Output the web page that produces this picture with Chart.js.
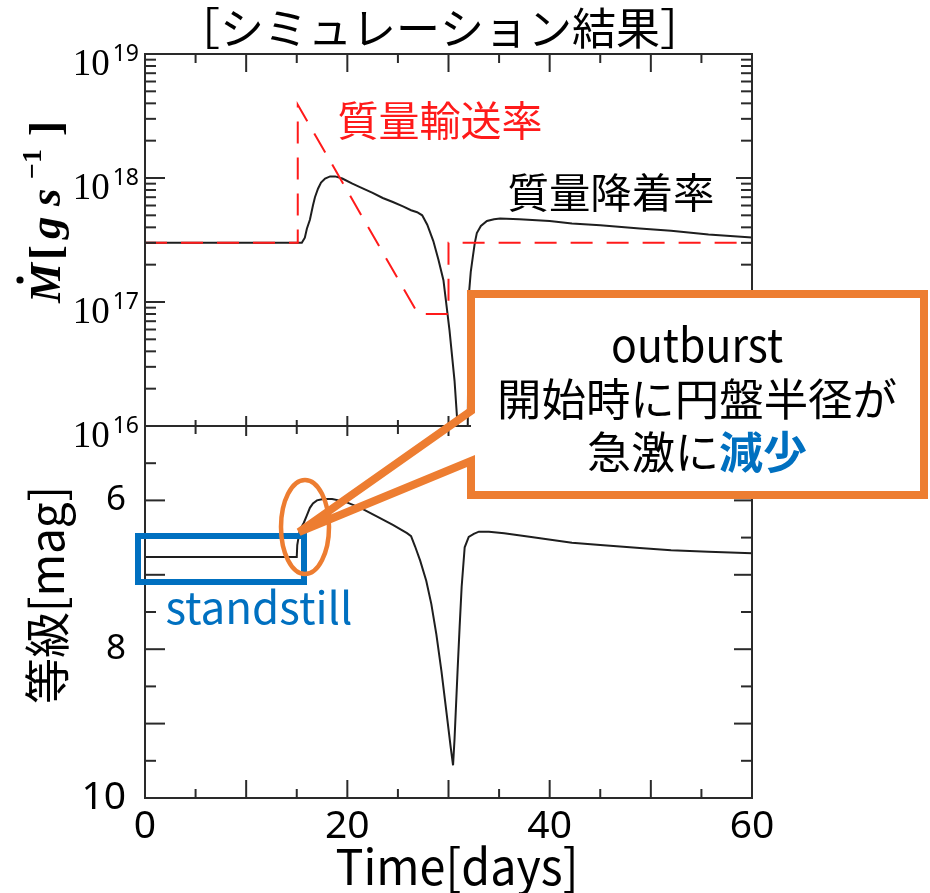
<!DOCTYPE html>
<html>
<head>
<meta charset="utf-8">
<script src="https://cdn.jsdelivr.net/npm/chart.js@4.4.1/dist/chart.umd.min.js"></script>
<style>
  html, body { margin: 0; padding: 0; background: #ffffff; }
  canvas { display: block; }
</style>
</head>
<body>
<canvas id="chart" width="930" height="893"></canvas>
<script>
// Mass transfer rate from the companion [g/s] (dashed red)
const transferDays = [0, 15.1, 15.1, 27.0, 30.0, 30.0, 60];
const transferRate = [3e17, 3e17, 3.9e18, 8e16, 8e16, 3e17, 3e17];

// Mass accretion rate onto the white dwarf [g/s] (solid black)
const accretionDays = [0, 15.5, 15.8, 16.0, 16.3, 16.6, 16.8, 17.1, 17.4, 17.8, 18.3, 18.8, 19.5, 20.5,
  21.3, 22.5, 23.5, 24.5, 25.5, 26.3, 26.9, 27.4, 27.9, 28.5, 29.0, 29.5, 30.1, 30.6, 30.9, 31.2,
  31.85, 31.95, 32.05, 32.2, 32.4, 32.6, 32.8, 33.2, 33.8, 34.5, 35.1, 37, 40, 42.2, 45, 48.9, 52, 55.7, 60];
const accretionRate = [3e17, 3e17, 3.3e17, 3.9e17, 4.6e17, 6.0e17, 7.0e17, 8.2e17, 9.2e17, 9.9e17, 1.03e18,
  1.03e18, 9.9e17, 9.0e17, 8.4e17, 7.6e17, 6.9e17, 6.4e17, 5.9e17, 5.5e17, 5.3e17, 5.0e17, 4.2e17,
  3.1e17, 2.2e17, 1.5e17, 5.9e16, 2.3e16, 1.0e16, 3e15, 3e15, 3e16, 1.24e17, 1.75e17, 2.3e17, 3.0e17,
  3.6e17, 4.1e17, 4.5e17, 4.65e17, 4.72e17, 4.65e17, 4.5e17, 4.3e17, 4.15e17, 3.92e17, 3.75e17, 3.5e17, 3.32e17];

// Visual magnitude of the system
const magDays = [0, 15.0, 15.05, 15.3, 15.7, 16.0, 16.3, 16.6, 17.0, 17.6, 18.5, 19.5, 20.0, 21.3, 23.0,
  24.5, 25.9, 26.3, 26.7, 27.2, 27.8, 28.3, 28.8, 29.3, 29.8, 30.2, 30.45, 30.6, 30.9, 31.1, 31.3,
  31.6, 32.0, 32.5, 33.0, 34.0, 35.5, 38, 42.2, 45, 48.9, 52, 55.7, 60];
const magValues = [6.76, 6.76, 6.60, 6.40, 6.30, 6.20, 6.10, 6.04, 6.00, 5.98, 5.98, 6.01, 6.03, 6.10, 6.22,
  6.33, 6.44, 6.48, 6.62, 6.81, 7.08, 7.39, 7.80, 8.29, 8.85, 9.30, 9.56, 9.20, 8.28, 7.70, 7.16,
  6.63, 6.49, 6.45, 6.42, 6.42, 6.44, 6.49, 6.57, 6.60, 6.64, 6.67, 6.69, 6.71];

// Tick values
const rateTicks = [1e16, 1e17, 1e18, 1e19];
const magTickLabels = [6, 8, 10];
const dayTickLabels = [0, 20, 40, 60];

const ORANGE = '#ed7d31';
const BLUE = '#0070c0';
const FRAME = '#2a2a2a';
const JP = '"Noto Sans CJK JP", "Noto Sans", sans-serif';

function pairs(xs, ys) { return xs.map((x, i) => ({ x: x, y: ys[i] })); }

// Draw text squeezed/stretched horizontally to a given width
function fitText(ctx, text, x, y, width, align) {
  const w = ctx.measureText(text).width;
  ctx.save();
  ctx.translate(x, y);
  ctx.scale(width / w, 1);
  ctx.textAlign = align || 'center';
  ctx.fillText(text, 0, 0);
  ctx.restore();
}

function tick(ctx, x1, y1, x2, y2) {
  ctx.beginPath(); ctx.moveTo(x1, y1); ctx.lineTo(x2, y2); ctx.stroke();
}

const panelPlugin = {
  id: 'panelPlugin',
  beforeDatasetDraw(chart, args) {
    const m = args.meta, ctx = chart.ctx;
    ctx.save();
    ctx.beginPath();
    ctx.rect(m.xScale.left, m.yScale.top, m.xScale.right - m.xScale.left, m.yScale.bottom - m.yScale.top);
    ctx.clip();
  },
  afterDatasetDraw(chart) { chart.ctx.restore(); },
  afterDatasetsDraw(chart) {
    const ctx = chart.ctx;
    const xs = chart.scales.x, yr = chart.scales.yRate, ym = chart.scales.yMag;
    const L = xs.left, R = xs.right;
    ctx.save();
    ctx.strokeStyle = FRAME;
    ctx.lineWidth = 2;
    ctx.lineCap = 'butt';
    ctx.strokeRect(L, yr.top, R - L, yr.bottom - yr.top);
    ctx.strokeRect(L, ym.top, R - L, ym.bottom - ym.top);

    // time ticks every 5 days, longer every 10
    for (let d = 5; d < 60; d += 5) {
      const px = xs.getPixelForValue(d);
      const major = d % 10 === 0;
      tick(ctx, px, yr.top, px, yr.top + (major ? 18 : 9));
      tick(ctx, px, yr.bottom, px, yr.bottom - (major ? 10 : 6));
      tick(ctx, px, ym.top, px, ym.top + (major ? 10 : 8));
      tick(ctx, px, ym.bottom, px, ym.bottom - (major ? 18 : 9));
    }
    // logarithmic ticks on the rate panel
    for (let e = 16; e <= 18; e++) {
      for (let k = 1; k <= 9; k++) {
        const v = k * Math.pow(10, e);
        if (k === 1 && e === 16) continue;
        const py = yr.getPixelForValue(v);
        const major = k === 1;
        tick(ctx, L, py, L + (major ? 20 : 11), py);
        tick(ctx, R, py, R - (major ? 16 : 11), py);
      }
    }
    // magnitude ticks every 0.5 mag
    for (let m = 5.5; m < 10; m += 0.5) {
      const py = ym.getPixelForValue(m);
      const major = Math.abs(m - Math.round(m)) < 1e-6;
      tick(ctx, L, py, L + (major ? 20 : 11), py);
      tick(ctx, R, py, R - (major ? 18 : 11), py);
    }
    ctx.restore();
  },
  afterDraw(chart) {
    const ctx = chart.ctx;
    const yr = chart.scales.yRate;
    ctx.save();
    ctx.fillStyle = '#000';

    // title
    ctx.font = '44px ' + JP;
    ctx.textBaseline = 'middle';
    fitText(ctx, '［シミュレーション結果］', 440, 28, 528, 'center');

    // rate axis labels 10^n
    ctx.textBaseline = 'alphabetic';
    yr.ticks.forEach(t => {
      const py = yr.getPixelForValue(t.value);
      const exp = String(Math.round(Math.log10(t.value)));
      ctx.font = '23px "Noto Sans"';
      ctx.textAlign = 'right';
      const ew = ctx.measureText(exp).width;
      ctx.fillText(exp, 139, py + 7);
      ctx.font = '37px "Liberation Serif"';
      ctx.fillText('10', 139 - ew - 3, py + 21);
    });

    // rate axis title  Ṁ[g s^-1]
    ctx.save();
    ctx.translate(60, 303);
    ctx.rotate(-Math.PI / 2);
    ctx.textAlign = 'left';
    ctx.textBaseline = 'alphabetic';
    ctx.font = 'italic bold 45px "Liberation Serif"';
    ctx.fillText('M', 0, 0);
    ctx.beginPath(); ctx.arc(23, -40, 3.6, 0, Math.PI * 2); ctx.fill();
    ctx.font = 'bold 45px "Liberation Serif"';
    ctx.fillText('[', 43, 0);
    ctx.font = 'italic bold 45px "Liberation Serif"';
    ctx.fillText('g', 64, 0);
    ctx.fillText('s', 97, 0);
    ctx.font = 'bold 28px "Liberation Serif"';
    ctx.fillText('\u22121', 124, -19);
    ctx.font = 'bold 45px "Liberation Serif"';
    ctx.fillText(']', 167, 0);
    ctx.restore();

    // magnitude axis title
    ctx.save();
    ctx.translate(47, 595);
    ctx.rotate(-Math.PI / 2);
    ctx.font = '46px ' + JP;
    ctx.textBaseline = 'middle';
    fitText(ctx, '等級[mag]', 0, 0, 218, 'center');
    ctx.restore();

    // time axis title
    ctx.font = '49px ' + JP;
    ctx.textBaseline = 'alphabetic';
    fitText(ctx, 'Time[days]', 457, 885, 243, 'center');

    // curve labels
    ctx.font = '41px ' + JP;
    ctx.textBaseline = 'middle';
    ctx.fillStyle = '#ff1a1a';
    fitText(ctx, '質量輸送率', 440, 120, 205, 'center');
    ctx.fillStyle = '#000';
    fitText(ctx, '質量降着率', 611, 192, 207, 'center');

    // standstill box
    ctx.strokeStyle = BLUE;
    ctx.lineWidth = 6;
    ctx.strokeRect(138, 536, 166, 46);
    ctx.fillStyle = BLUE;
    ctx.font = '44px ' + JP;
    ctx.textBaseline = 'alphabetic';
    fitText(ctx, 'standstill', 259, 624, 187, 'center');

    // callout
    ctx.fillStyle = '#fff';
    ctx.fillRect(471, 294, 453, 201);
    ctx.strokeStyle = ORANGE;
    ctx.lineWidth = 8;
    ctx.lineJoin = 'miter';
    ctx.miterLimit = 4;
    ctx.beginPath();
    ctx.moveTo(471, 411);
    ctx.lineTo(471, 294);
    ctx.lineTo(924, 294);
    ctx.lineTo(924, 495);
    ctx.lineTo(471, 495);
    ctx.lineTo(471, 461);
    ctx.lineTo(299, 532);
    ctx.closePath();
    ctx.stroke();

    // ellipse round the outburst onset
    ctx.lineWidth = 4.5;
    ctx.beginPath();
    ctx.ellipse(305, 527, 24, 47, 0, 0, Math.PI * 2);
    ctx.stroke();

    // callout text
    ctx.fillStyle = '#000';
    ctx.textBaseline = 'alphabetic';
    ctx.font = '46px ' + JP;
    fitText(ctx, 'outburst', 697, 362, 172, 'center');
    ctx.textBaseline = 'middle';
    ctx.font = '44px ' + JP;
    fitText(ctx, '開始時に円盤半径が', 697, 399, 400, 'center');
    const partA = '急激に', partB = '減少';
    ctx.font = '44px ' + JP;
    const wa = ctx.measureText(partA).width;
    ctx.font = 'bold 44px ' + JP;
    const wb = ctx.measureText(partB).width;
    const x0 = 697 - (wa + wb) / 2;
    ctx.textAlign = 'left';
    ctx.font = '44px ' + JP;
    ctx.fillStyle = '#000';
    ctx.fillText(partA, x0, 452);
    ctx.font = 'bold 44px ' + JP;
    ctx.fillStyle = BLUE;
    ctx.fillText(partB, x0 + wa, 452);

    ctx.restore();
  }
};

new Chart(document.getElementById('chart'), {
  type: 'line',
  data: {
    datasets: [
      {
        label: '質量輸送率',
        data: pairs(transferDays, transferRate),
        yAxisID: 'yRate',
        borderColor: '#ff1a1a',
        borderWidth: 2,
        borderDash: [22, 14],
        pointRadius: 0,
        tension: 0,
        fill: false,
        order: 0
      },
      {
        label: '質量降着率',
        data: pairs(accretionDays, accretionRate),
        yAxisID: 'yRate',
        borderColor: '#1e1e1e',
        borderWidth: 2,
        pointRadius: 0,
        tension: 0,
        fill: false,
        order: 1
      },
      {
        label: '等級',
        data: pairs(magDays, magValues),
        yAxisID: 'yMag',
        borderColor: '#1e1e1e',
        borderWidth: 2,
        pointRadius: 0,
        tension: 0,
        fill: false,
        order: 1
      }
    ]
  },
  options: {
    responsive: false,
    animation: false,
    devicePixelRatio: 1,
    layout: { autoPadding: false, padding: { top: 54, right: 178, bottom: 0, left: 0 } },
    plugins: { legend: { display: false }, tooltip: { enabled: false }, title: { display: false } },
    scales: {
      x: {
        type: 'linear', position: 'bottom', min: 0, max: 60,
        grid: { display: false }, border: { display: false },
        afterBuildTicks(s) { s.ticks = dayTickLabels.map(v => ({ value: v })); },
        ticks: { autoSkip: false, maxRotation: 0, padding: -3, color: '#000',
                 font: { family: '"Noto Sans"', size: 39 } },
        afterFit(s) { s.height = 95; s.paddingLeft = 0; s.paddingRight = 0; }
      },
      // the stack is laid out bottom-up: magnitude panel below, rate panel above
      yMag: {
        type: 'linear', position: 'left', stack: 'panels', stackWeight: 1,
        min: 5, max: 10, reverse: true,
        grid: { display: false }, border: { display: false },
        afterBuildTicks(s) { s.ticks = magTickLabels.map(v => ({ value: v })); },
        ticks: { padding: 11, color: '#000',
                 font: c => ({ family: '"Noto Sans"', size: c.tick && c.tick.value === 10 ? 39 : 35 }) },
        afterFit(s) { s.width = 145; s.paddingTop = 0; s.paddingBottom = 0; }
      },
      yRate: {
        type: 'logarithmic', position: 'left', stack: 'panels', stackWeight: 1,
        min: 1e16, max: 1e19,
        grid: { display: false }, border: { display: false },
        afterBuildTicks(s) { s.ticks = rateTicks.map(v => ({ value: v })); },
        ticks: { display: false },
        afterFit(s) { s.width = 145; s.paddingTop = 0; s.paddingBottom = 0; }
      }
    }
  },
  plugins: [panelPlugin]
});
</script>
</body>
</html>
